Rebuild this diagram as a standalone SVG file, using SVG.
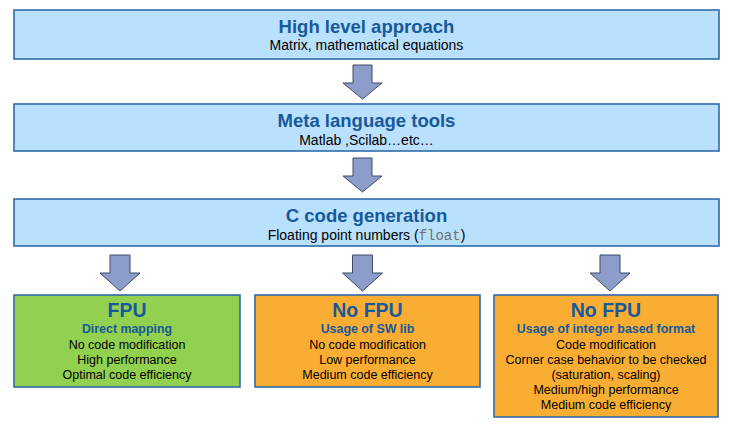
<svg xmlns="http://www.w3.org/2000/svg" width="734" height="427" viewBox="0 0 734 427">
<defs>
<style>
.box{stroke:#2f6ca8;stroke-width:1.6}
.blue{fill:#b9e0fd}
.green{fill:#92d050}
.orange{fill:#f9ad32}
.arrow{fill:#8c9dc9;stroke:#3e4a68;stroke-width:1}
text{font-family:"Liberation Sans",Arial,sans-serif;text-anchor:middle}
.t1{font-size:18.5px;font-weight:bold;fill:#17599a}
.s1{font-size:14px;fill:#000}
.t2{font-size:19.5px;font-weight:bold;fill:#17599a}
.s2{font-size:12.4px;font-weight:bold;fill:#17599a}
.l2{font-size:12.5px;fill:#000}
.mono{font-family:"Liberation Mono","Courier New",monospace;fill:#707070}
</style>
</defs>
<rect width="734" height="427" fill="#ffffff"/>
<g id="connectors">
<path class="arrow" d="M353,65 H372 V83 H382 L362.5,99 L343,83 H353 Z"/>
<path class="arrow" d="M353,158 H372 V176 H382 L362.5,192 L343,176 H353 Z"/>
<path class="arrow" d="M110,255 H130 V273 H140 L120,291 L100,273 H110 Z"/>
<path class="arrow" d="M352.5,255 H372.5 V273 H382.5 L362.5,291 L342.5,273 H352.5 Z"/>
<path class="arrow" d="M600,255 H620 V273 H630 L610,291 L590,273 H600 Z"/>
</g>
<g id="high-level">
<rect class="box blue" x="14" y="10" width="705" height="49"/>
<text class="t1" x="366.5" y="33">High level approach</text>
<text class="s1" x="366.5" y="50">Matrix, mathematical equations</text>
</g>
<g id="meta-language">
<rect class="box blue" x="14" y="104" width="705" height="47"/>
<text class="t1" x="366.5" y="127">Meta language tools</text>
<text class="s1" x="366.5" y="145">Matlab ,Scilab…etc…</text>
</g>
<g id="c-code">
<rect class="box blue" x="14" y="199" width="705" height="47"/>
<text class="t1" x="366.5" y="222">C code generation</text>
<text class="s1" x="366.5" y="240">Floating point numbers (<tspan class="mono">float</tspan>)</text>
</g>
<g id="fpu">
<rect class="box green" x="14" y="295" width="226" height="92"/>
<text class="t2" x="127" y="317">FPU</text>
<text class="s2" x="127" y="333">Direct mapping</text>
<text class="l2" x="127" y="349">No code modification</text>
<text class="l2" x="127" y="364">High performance</text>
<text class="l2" x="127" y="379">Optimal code efficiency</text>
</g>
<g id="no-fpu-swlib">
<rect class="box orange" x="255" y="295" width="225" height="92"/>
<text class="t2" x="367.5" y="317">No FPU</text>
<text class="s2" x="367.5" y="333">Usage of SW lib</text>
<text class="l2" x="367.5" y="349">No code modification</text>
<text class="l2" x="367.5" y="364">Low performance</text>
<text class="l2" x="367.5" y="379">Medium code efficiency</text>
</g>
<g id="no-fpu-integer">
<rect class="box orange" x="494" y="295" width="224" height="122"/>
<text class="t2" x="606" y="317">No FPU</text>
<text class="s2" x="606" y="333">Usage of integer based format</text>
<text class="l2" x="606" y="349">Code modification</text>
<text class="l2" x="606" y="363.5">Corner case behavior to be checked</text>
<text class="l2" x="606" y="378.5">(saturation, scaling)</text>
<text class="l2" x="606" y="393.5">Medium/high performance</text>
<text class="l2" x="606" y="408.5">Medium code efficiency</text>
</g>
</svg>
